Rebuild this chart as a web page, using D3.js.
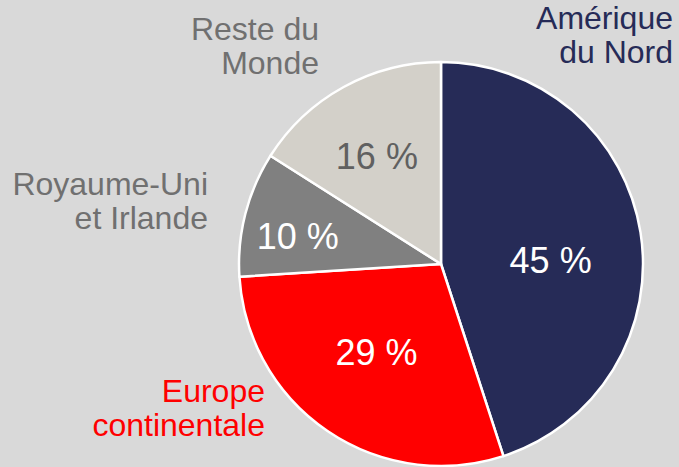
<!DOCTYPE html>
<html>
<head>
<meta charset="utf-8">
<script src="https://cdn.jsdelivr.net/npm/d3@7"></script>
<style>
  body { margin: 0; background: #d9d9d9; }
  svg { display: block; }
</style>
</head>
<body>
<div id="chart"></div>
<script>
// pie chart data
var regions = ["Amérique du Nord", "Europe continentale", "Royaume-Uni et Irlande", "Reste du Monde"];
var shares = [45, 29, 10, 16];
var sliceColors = ["#262b57", "#ff0000", "#808080", "#d3d0c9"];
var pctColors = ["#ffffff", "#ffffff", "#ffffff", "#606060"];
var labelLines = [["Amérique", "du Nord"], ["Europe", "continentale"], ["Royaume-Uni", "et Irlande"], ["Reste du", "Monde"]];
var labelColors = ["#262b57", "#ff0000", "#707070", "#707070"];

var width = 679, height = 467;
var cx = 441, cy = 264, radius = 202;

var svg = d3.select("#chart").append("svg")
    .attr("width", width)
    .attr("height", height);

svg.append("rect").attr("width", width).attr("height", height).attr("fill", "#d9d9d9");

var pie = d3.pie().sort(null).value(function(d){ return d; });
var arcs = pie(shares);

var arc = d3.arc().innerRadius(0).outerRadius(radius);

var g = svg.append("g").attr("transform", "translate(" + cx + "," + cy + ")");

g.selectAll("path")
    .data(arcs)
    .enter().append("path")
    .attr("d", arc)
    .attr("fill", function(d, i){ return sliceColors[i]; })
    .attr("stroke", "#ffffff")
    .attr("stroke-width", 2.5)
    .attr("stroke-linejoin", "round");

// percentages inside slices: [radius fraction, angle tweak in degrees]
var pctPos = [[0.543, 7], [0.54, 2], [0.722, -3.5], [0.62, -2]];
g.selectAll("text.pct")
    .data(arcs)
    .enter().append("text")
    .attr("class", "pct")
    .attr("transform", function(d, i){
        var a = (d.startAngle + d.endAngle) / 2 + pctPos[i][1] * Math.PI / 180;
        var r = radius * pctPos[i][0];
        return "translate(" + (Math.sin(a) * r) + "," + (-Math.cos(a) * r) + ")";
    })
    .attr("text-anchor", "middle")
    .attr("dy", "0.36em")
    .style("font-family", "Liberation Sans, Arial, sans-serif")
    .style("font-size", "36px")
    .attr("fill", function(d, i){ return pctColors[i]; })
    .text(function(d){ return d.data + " %"; });

// outside labels (right aligned)
var labelAnchors = [[673, 29], [265, 402], [208, 195], [319, 40]];
labelLines.forEach(function(lines, i){
    var t = svg.append("text")
        .attr("x", labelAnchors[i][0])
        .attr("y", labelAnchors[i][1])
        .attr("text-anchor", "end")
        .style("font-family", "Liberation Sans, Arial, sans-serif")
        .style("font-size", "32px")
        .attr("fill", labelColors[i]);
    lines.forEach(function(line, j){
        t.append("tspan")
            .attr("x", labelAnchors[i][0])
            .attr("dy", j === 0 ? 0 : 34)
            .text(line);
    });
});
</script>
</body>
</html>
